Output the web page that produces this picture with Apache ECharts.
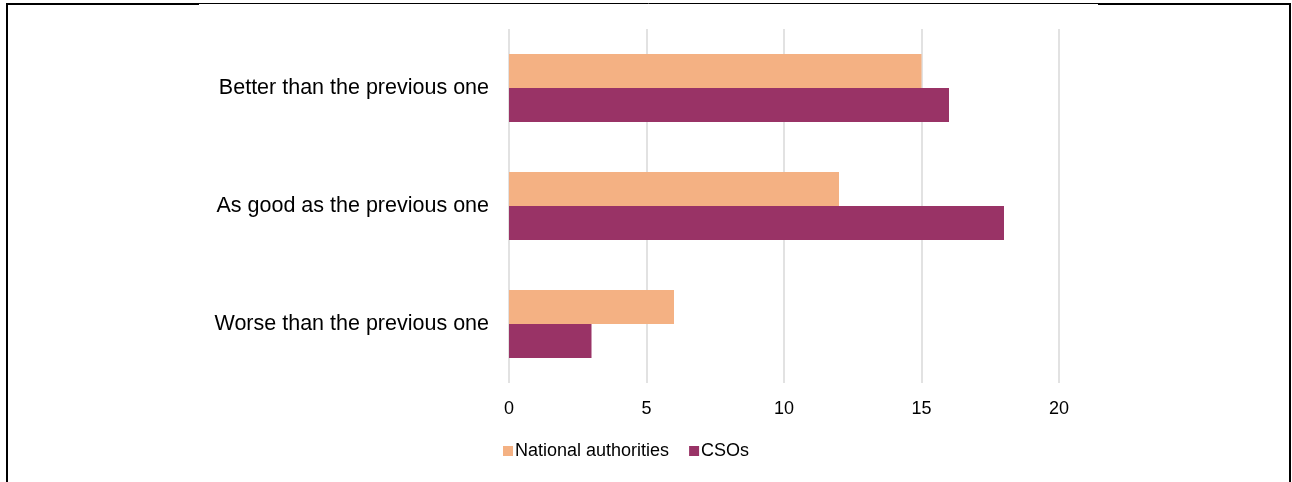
<!DOCTYPE html>
<html>
<head>
<meta charset="utf-8">
<script src="https://cdn.jsdelivr.net/npm/echarts@6/dist/echarts.min.js"></script>
<style>
  html, body { margin: 0; padding: 0; background: #fff; }
  #chart { width: 1292px; height: 482px; }
</style>
</head>
<body>
<div id="chart"></div>
<script>
// answers, top to bottom
const categories = ['Better than the previous one', 'As good as the previous one', 'Worse than the previous one'];
const nationalAuthorities = [15, 12, 6];
const csos = [16, 18, 3];
const xTicks = [0, 5, 10, 15, 20];

const chart = echarts.init(document.getElementById('chart'), null, {renderer: 'canvas'});
const font = 'Liberation Sans, Arial, sans-serif';

const option = {
    animation: false,
    textStyle: {fontFamily: font},
    grid: {left: 509, right: 233, top: 29, bottom: 99, containLabel: false},
    legend: {
        data: ['National authorities', 'CSOs'],
        left: 498,
        top: 437,
        itemWidth: 10,
        itemHeight: 10,
        itemGap: 20,
        icon: 'rect',
        textStyle: {fontSize: 18, color: '#000', fontFamily: font, padding: [0, 0, 0, -3]}
    },
    xAxis: {
        type: 'value',
        min: xTicks[0],
        max: xTicks[xTicks.length - 1],
        interval: 5,
        axisLine: {show: false},
        axisTick: {show: false},
        splitLine: {lineStyle: {color: '#d9d9d9', width: 1.5}},
        axisLabel: {fontSize: 18, color: '#000', margin: 17, fontFamily: font}
    },
    yAxis: {
        type: 'category',
        data: categories,
        inverse: true,
        axisLine: {show: false},
        axisTick: {show: false},
        axisLabel: {fontSize: 21.5, color: '#000', margin: 20, fontFamily: font}
    },
    series: [
        {
            name: 'National authorities',
            type: 'bar',
            data: nationalAuthorities,
            barWidth: 34,
            barGap: '0%',
            itemStyle: {color: '#f4b183'}
        },
        {
            name: 'CSOs',
            type: 'bar',
            data: csos,
            barWidth: 34,
            barGap: '0%',
            itemStyle: {color: '#993366'}
        }
    ],
    graphic: [
        {type: 'line', shape: {x1: 7, y1: 4, x2: 7, y2: 482}, style: {stroke: '#000', lineWidth: 2}},
        {type: 'line', shape: {x1: 6, y1: 4, x2: 199, y2: 4}, style: {stroke: '#000', lineWidth: 2}},
        {type: 'line', shape: {x1: 199, y1: 3.5, x2: 1098, y2: 3.5}, style: {stroke: '#000', lineWidth: 1}},
        {type: 'line', shape: {x1: 1098, y1: 4, x2: 1291, y2: 4}, style: {stroke: '#000', lineWidth: 2}},
        {type: 'line', shape: {x1: 1290, y1: 3, x2: 1290, y2: 482}, style: {stroke: '#000', lineWidth: 2}}
    ]
};

chart.setOption(option);
</script>
</body>
</html>
